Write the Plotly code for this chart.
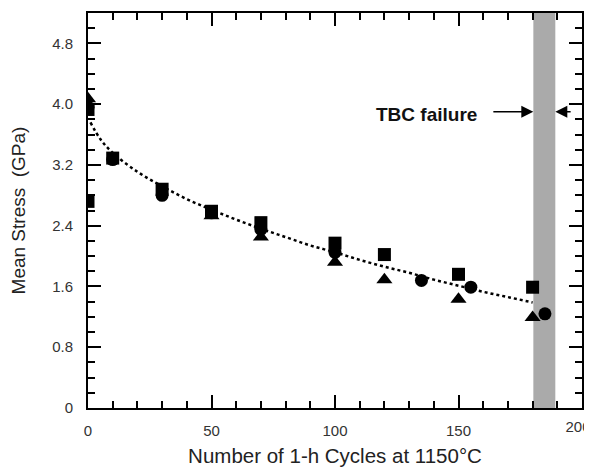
import plotly.graph_objects as go

# Data
sq_x = [0, 0, 10, 30, 50, 70, 100, 120, 150, 180]
sq_y = [2.72, 3.93, 3.29, 2.88, 2.59, 2.44, 2.17, 2.02, 1.76, 1.59]
ci_x = [0, 10, 30, 50, 70, 100, 135, 155, 185]
ci_y = [3.96, 3.27, 2.80, 2.57, 2.35, 2.05, 1.68, 1.59, 1.24]
tr_x = [0, 50, 70, 100, 120, 150, 180]
tr_y = [4.07, 2.53, 2.25, 1.92, 1.69, 1.43, 1.19]

fit_x = [1, 5, 10, 20, 30, 40, 50, 60, 70, 80, 90, 100, 110, 120, 130, 140, 150, 160, 170, 180]
fit_y = [3.76, 3.54, 3.36, 3.11, 2.92, 2.75, 2.61, 2.48, 2.36, 2.25, 2.14, 2.05, 1.95,
         1.86, 1.78, 1.69, 1.61, 1.53, 1.46, 1.39]

band = [180.3, 189.2]
y_ticks = [0, 0.8, 1.6, 2.4, 3.2, 4.0, 4.8]
y_tick_text = ["0", "0.8", "1.6", "2.4", "3.2", "4.0", "4.8"]
x_ticks = [0, 50, 100, 150, 200]
x_tick_text = ["0", "50", "100", "150", ""]
x_edge_tick = [200]
x_edge_tick_text = ["200"]

fig = go.Figure()
fig.add_shape(type="rect", xref="x", yref="paper", x0=band[0], x1=band[1], y0=0, y1=1,
              fillcolor="#aaaaaa", line_width=0, layer="below")
# fit line drawn on the overlaid x axis (same range and domain as x)
fig.add_trace(go.Scatter(x=fit_x, y=fit_y, mode="lines", xaxis="x2", yaxis="y",
                         line=dict(color="black", width=2.5, dash="dot", shape="spline")))
fig.add_trace(go.Scatter(x=sq_x, y=sq_y, mode="markers",
                         marker=dict(symbol="square", size=13, color="black")))
fig.add_trace(go.Scatter(x=ci_x, y=ci_y, mode="markers",
                         marker=dict(symbol="circle", size=13, color="black")))
fig.add_trace(go.Scatter(x=tr_x, y=tr_y, mode="markers",
                         marker=dict(symbol="triangle-up", size=14, color="black")))

fig.add_annotation(x=137, y=3.87, text="<b>TBC failure</b>", showarrow=False,
                   font=dict(family="Liberation Sans, Arial", size=19, color="#111"))
fig.add_annotation(x=band[0], y=3.9, ax=163.5, ay=3.9, axref="x", ayref="y", text="",
                   showarrow=True, arrowhead=2, arrowsize=1.6, arrowwidth=1.5, arrowcolor="black")
fig.add_annotation(x=band[1], y=3.9, ax=196, ay=3.9, axref="x", ayref="y", text="",
                   showarrow=True, arrowhead=2, arrowsize=1.6, arrowwidth=1.5, arrowcolor="black")

tickfont = dict(family="Liberation Sans, Arial", size=15, color="#333")
axis_common = dict(showline=True, linecolor="black", linewidth=2, mirror="ticks",
                   ticks="inside", ticklen=13, tickwidth=1.5, tickcolor="black",
                   showgrid=False, zeroline=False, automargin=False,
                   tickfont=tickfont)

fig.update_layout(
    xaxis=dict(**axis_common, range=[0, 200], tickvals=x_ticks, ticktext=x_tick_text,
               minor=dict(dtick=10, ticklen=7, tickwidth=1.5, tickcolor="black", ticks="inside"),
               title_text="Number of 1-h Cycles at 1150°C", title_standoff=11,
               title_font=dict(family="Liberation Sans, Arial", size=20.5, color="#222"),
               ticklabelstandoff=8),
    yaxis=dict(**axis_common, range=[0, 5.2], tickvals=y_ticks, ticktext=y_tick_text,
               minor=dict(dtick=0.2, ticklen=7, tickwidth=1.5, tickcolor="black", ticks="inside"),
               title_text="Mean Stress  (GPa)", title_standoff=39,
               title_font=dict(family="Liberation Sans, Arial", size=19, color="#222"),
               ticklabelstandoff=10),
    xaxis2=dict(overlaying="x", anchor="y", side="bottom", range=[0, 200],
                tickvals=x_edge_tick, ticktext=x_edge_tick_text, ticks="",
                showline=False, showgrid=False, zeroline=False, automargin=False,
                ticklabeloverflow="allow",
                tickfont=tickfont, ticklabelstandoff=8, ticklabelshift=-4),
    width=584, height=460, margin=dict(l=80, r=10, t=5, b=60),
    plot_bgcolor="white", paper_bgcolor="white", showlegend=False)

fig.write_html("out.html")
